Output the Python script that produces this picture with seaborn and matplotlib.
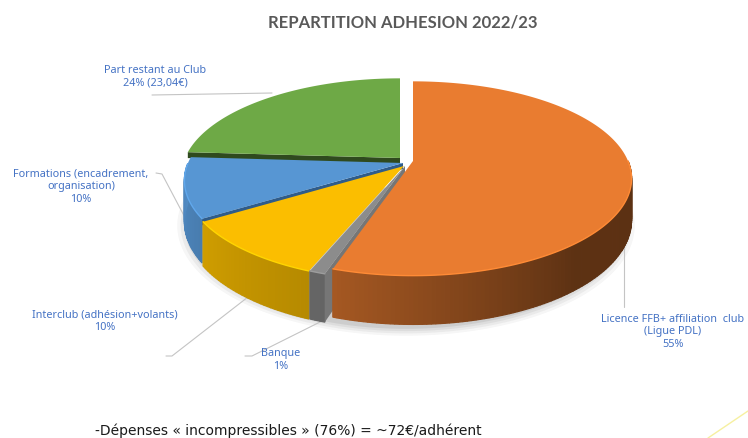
"""
Exploded 3D-look pie of the 2022/23 membership fee split.
matplotlib has no real 3D pie so the slices are projected by hand from the shares.
"""
import numpy as np
import seaborn as sns
import matplotlib.pyplot as plt

sns.set_theme(style='white')
plt.rcParams['font.family'] = ['Noto Sans', 'DejaVu Sans']

# clockwise from the top of the pie
labels = ["Licence FFB+ affiliation  club\n(Ligue PDL)\n55%", "Banque\n1%",
          "Interclub (adhésion+volants)\n10%",
          "Formations (encadrement,\norganisation)\n10%",
          "Part restant au Club\n24% (23,04€)"]
shares = [55, 1, 10, 10, 24]
colors = ['#E97C30', '#8C8C8C', '#FBBE00', '#5796D3', '#6EA946']
title = "REPARTITION ADHESION 2022/23"
footer = "-Dépenses « incompressibles » (76%) = ~72€/adhérent"

# placement, in figure pixels
cx, cy = 400, 158
a, b, persp = 215, 94, 0.18
depth = 40
offsets = [(13, 4), (5, 9), (4, 9), (3, 6), (0, 1)]
label_xy = [(673, 332), (281, 360), (105, 321), (81, 187), (155, 77)]
leaders = [[(624, 215), (624, 308)],
           [(322, 322), (252, 357), (245, 357)],
           [(248, 298), (172, 357), (166, 357)],
           [(190, 228), (162, 175), (156, 174)],
           [(272, 94), (152, 96)]]
# cut faces showing at the clockwise-start edge of a slice: index, colour, height
cut_faces = {1: ('#767676', depth), 3: ('#2F5C8A', 6), 4: ('#2F4A1E', 6)}

LABEL_BLUE = '#4472C4'


def proj(theta, ox=0, oy=0, r=1.0, z=0):
    theta = np.radians(theta)
    u, v = r * np.cos(theta), r * np.sin(theta)
    s = 1 / (1 + persp * v)
    return cx + ox + a * u * s, cy + oy - b * v * s + z * s


def shade(theta):
    t = (theta - 90) % 360 + 90
    return np.interp(t, [90, 180, 250, 310, 450], [0.38, 0.92, 0.72, 0.40, 0.38])


def rgb(color):
    return np.array(sns.color_palette([color])[0])


fig = plt.figure(figsize=(7.48, 4.39), dpi=100)
ax = fig.add_axes([0, 0, 1, 1])
ax.set_xlim(0, 748)
ax.set_ylim(439, 0)
ax.axis('off')

# slice limits: orange starts at 90 and runs clockwise, so go down from 450
edges = 450 - 3.6 * np.cumsum([0] + shares)
slices = [(edges[i], edges[i + 1]) for i in range(len(shares))]

# soft shadow, front half only so the gap at the back stays white
ring = np.linspace(-190, 10, 101)
for grow, alpha in zip([1.045, 1.03, 1.015, 1.0], [0.04, 0.05, 0.06, 0.08]):
    sx, sy = proj(ring, 6, 6, r=grow, z=depth + 2)
    ax.fill(sx, sy, color='k', alpha=alpha, lw=0, zorder=1)

# back to front, orange last as it sits on top of the grey wall
for i in [4, 3, 2, 1, 0]:
    start, end = slices[i]
    ox, oy = offsets[i]
    col = colors[i]
    z_base = 3 + 2 * (4 - i)
    th = np.linspace(start, end, max(int(abs(start - end)), 2) + 1)

    # outer wall as thin strips to fake the gradient
    for t0, t1 in zip(th[:-1], th[1:]):
        if np.sin(np.radians((t0 + t1) / 2)) > 0:
            continue
        x0, y0 = proj(t0, ox, oy)
        x1, y1 = proj(t1, ox, oy)
        x2, y2 = proj(t1, ox, oy, z=depth)
        x3, y3 = proj(t0, ox, oy, z=depth)
        c = tuple(rgb(col) * shade((t0 + t1) / 2))
        ax.fill([x0, x1, x2, x3], [y0, y1, y2, y3], color=c, lw=0.9, zorder=z_base)

    # cut faces that show because of the explode
    if i in cut_faces:
        c, h = cut_faces[i]
        x0, y0 = proj(0, ox, oy, r=0)
        x1, y1 = proj(start, ox, oy)
        x2, y2 = proj(start, ox, oy, z=h)
        x3, y3 = proj(0, ox, oy, r=0, z=h)
        ax.fill([x0, x1, x2, x3], [y0, y1, y2, y3], color=c, lw=0, zorder=z_base)

    # top face
    xs, ys = proj(th, ox, oy)
    px, py = proj(0, ox, oy, r=0)
    ax.fill(np.r_[px, xs], np.r_[py, ys], color=col, lw=0, zorder=z_base + 1)

    # lighter rim on the front edge
    front = np.sin(np.radians(th)) < 0
    if front.any():
        rim = tuple(np.minimum(rgb(col) * 1.12, 1))
        ax.plot(xs[front], ys[front], color=rim, lw=1, zorder=z_base + 1)

for pts in leaders:
    ax.plot(*zip(*pts), color='#C4C4C4', lw=0.8, zorder=2)

for txt, (x, y) in zip(labels, label_xy):
    ax.text(x, y, txt, color=LABEL_BLUE, fontsize=7.8, ha='center', va='center',
            linespacing=1.2, zorder=20)

ax.text(403, 22, title, color='#595959', fontsize=12, fontweight='bold',
        ha='center', va='center', family=['Lato', 'DejaVu Sans'])
ax.text(95, 431, footer, color='#1A1A1A', fontsize=10, ha='left', va='center',
        family=['DejaVu Sans'])
ax.plot([708, 748], [439, 412], color='#F6F0A0', lw=1)

fig.savefig('out.png', dpi=100)
